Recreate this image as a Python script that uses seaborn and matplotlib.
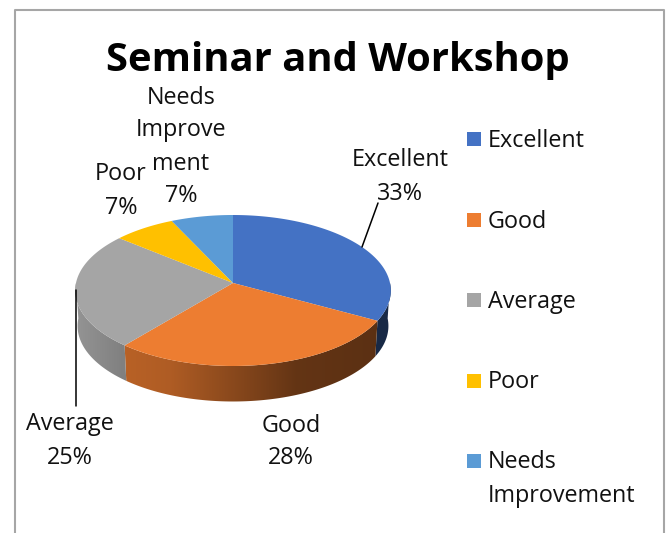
# Seminar and Workshop - pie 3D con perspectiva

import numpy as np
import matplotlib
matplotlib.use("Agg")
import matplotlib.pyplot as plt
import seaborn as sns
from matplotlib.patches import Polygon, Rectangle

sns.set_theme(style="white")
plt.rcParams['font.family'] = ['Open Sans', 'DejaVu Sans']

# Datos
categories = ["Excellent", "Good", "Average", "Poor", "Needs Improvement"]
values = [33, 28, 25, 7, 7]
legend_labels = ["Excellent", "Good", "Average", "Poor", "Needs\nImprovement"]
slice_labels = ["Excellent", "Good", "Average", "Poor", "Needs\nImprove\nment"]
colors = sns.color_palette(["#4472C4", "#ED7D31", "#A5A5A5", "#FFC000", "#5B9BD5"])

# Geometria del disco (pixeles de la imagen)
cx, cy = 233, 283
rx, ry = 157, 74.75
persp = 0.0993
depth = 35.5


def proyectar(theta, shrink=1.0, drop=0):
    u, v = np.sin(theta), np.cos(theta)
    den = 1 + persp * v
    return cx + shrink * rx * u / den, cy - ry * v / den + drop


fig = plt.figure(figsize=(6.69, 5.33), dpi=100)
ax = fig.add_axes([0, 0, 1, 1])
ax.axis("off")

# Marco
ax.plot([15, 15, 664, 664], [533, 10, 10, 533], color="#A6A6A6", lw=1.5)

edges = np.cumsum([0] + values) / sum(values) * 2 * np.pi

# Pared lateral (solo la parte frontal, degradado recortado con la forma)
frac = np.linspace(0, 1, 300)
shade = np.interp(frac, [0, 0.15, 0.3, 0.7, 1], [0.9, 0.78, 0.74, 0.42, 0.38])
for i, col in enumerate(colors):
    a0, a1 = max(edges[i], np.pi / 2), min(edges[i + 1], 3 * np.pi / 2)
    if a1 <= a0:
        continue
    ts = np.linspace(a0, a1, 120)
    xt, yt = proyectar(ts)
    xb, yb = proyectar(ts[::-1], shrink=0.985, drop=depth)
    shape = Polygon(np.c_[np.r_[xt, xb], np.r_[yt, yb]], closed=True,
                    transform=ax.transData, fc="none", ec="none")
    ax.add_patch(shape)
    s = np.full_like(shade, 0.36) if i == 0 else shade
    grad = (np.array(col)[None, None, :] * s[None, :, None]).clip(0, 1)
    im = ax.imshow(grad, extent=(cx - rx - 2, cx + rx + 2, 420, 270), aspect="auto",
                   interpolation="bilinear", zorder=1)
    im.set_clip_path(shape)

# Cara superior
for i, col in enumerate(colors):
    ts = np.linspace(edges[i], edges[i + 1], 120)
    xs, ys = proyectar(ts)
    ax.fill(np.r_[cx, xs], np.r_[cy, ys], color=col, lw=0, zorder=2)

# Etiquetas de cada sector
label_pos = [(400, 177), (291, 442), (70, 441), (121, 191), (181, 147)]
for name, val, (lx, ly) in zip(slice_labels, values, label_pos):
    ax.text(lx, ly, f"{name}\n{val}%", ha="center", va="center",
            fontsize=16.8, color="#111111", linespacing=1.5)

# Lineas guia
ax.plot([378, 362], [203, 247], color="black", lw=1.1, zorder=3)
ax.plot([76, 76], [290, 406], color="black", lw=1.1, zorder=3)

# Titulo
ax.text(338, 61, "Seminar and Workshop", ha="center", va="center",
        fontsize=28.8, fontweight="bold", color="black")

# Leyenda
for i, (lab, col) in enumerate(zip(legend_labels, colors)):
    ly = 139 + 80.5 * i
    ax.add_patch(Rectangle((467, ly - 7), 14, 14, color=col, lw=0))
    ty = ly + 2 if "\n" not in lab else ly + 18
    ax.text(488, ty, lab, ha="left", va="center",
            fontsize=16.8, color="#111111", linespacing=1.5)

ax.set_xlim(0, 669)
ax.set_ylim(533, 0)

plt.savefig("out.png", dpi=100)
plt.close()
